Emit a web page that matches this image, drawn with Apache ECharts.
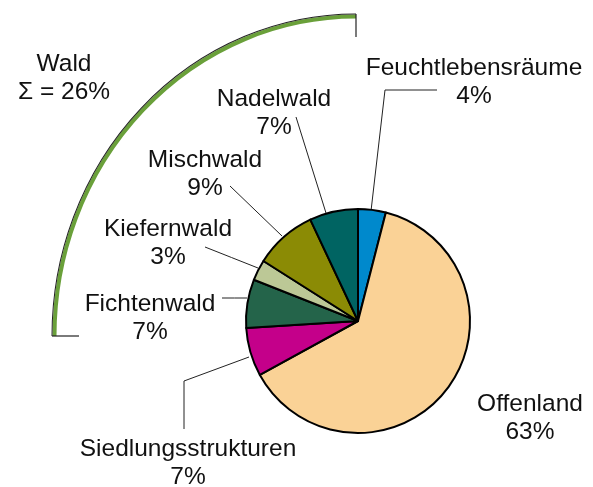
<!DOCTYPE html>
<html>
<head>
<meta charset="utf-8">
<script src="https://cdn.jsdelivr.net/npm/echarts@6/dist/echarts.min.js"></script>
<style>html,body{margin:0;padding:0;background:#fff;}#c{width:593px;height:487px;}</style>
</head>
<body>
<div id="c"></div>
<script>
// Data
const categories = ['Feuchtlebensräume', 'Offenland', 'Siedlungsstrukturen', 'Fichtenwald', 'Kiefernwald', 'Mischwald', 'Nadelwald'];
const values = [4, 63, 7, 7, 3, 9, 7];
const colors = ['#0089CC', '#FAD296', '#C4008A', '#24644A', '#BCC896', '#8B8B05', '#006462'];
const groupLabel = 'Wald';
const groupValue = 26;

// Layout for labels (center x, center y, leader line points from slice to label)
const labelPos = {
  'Feuchtlebensräume': { x: 474, y: 82, line: [[371, 211], [385, 90], [437, 90]] },
  'Offenland': { x: 530, y: 418, line: null },
  'Siedlungsstrukturen': { x: 188, y: 463, line: [[249, 357], [184, 381], [184, 429]] },
  'Fichtenwald': { x: 150, y: 318, line: [[247, 298], [234.5, 298], [222, 298]] },
  'Kiefernwald': { x: 168, y: 243, line: [[258, 268], [231.5, 257.5], [205, 247]] },
  'Mischwald': { x: 205, y: 174, line: [[282, 236], [256, 211], [230, 186]] },
  'Nadelwald': { x: 274, y: 113, line: [[326, 213], [311, 165], [296, 117]] }
};

const font = 'Liberation Sans, Arial, sans-serif';
const chart = echarts.init(document.getElementById('c'), null, { renderer: 'canvas' });

const data = categories.map((n, i) => ({
  name: n,
  value: values[i],
  itemStyle: { color: colors[i] },
  labelLine: { show: !!labelPos[n].line }
}));

const ecx = 356, ecy = 336, erx = 304, ery = 322;

chart.setOption({
  animation: false,
  backgroundColor: '#fff',
  series: [{
    type: 'pie',
    center: [358, 321],
    radius: 112,
    startAngle: 90,
    clockwise: true,
    data: data,
    itemStyle: { borderColor: '#000', borderWidth: 2 },
    label: {
      show: true,
      formatter: '{b}\n{d}%',
      fontFamily: font,
      fontSize: 24.5,
      lineHeight: 28,
      color: '#111',
      align: 'center',
      overflow: 'none',
      width: 300
    },
    labelLine: { show: true, lineStyle: { color: '#222', width: 1 } },
    labelLayout: function (p) {
      const lp = labelPos[categories[p.dataIndex]];
      const r = { x: lp.x, y: lp.y, align: 'center', verticalAlign: 'middle' };
      if (lp.line) r.labelLinePoints = lp.line;
      return r;
    },
    emphasis: { disabled: true }
  }],
  graphic: [
    { type: 'arc', x: ecx, y: ecy, scaleX: 1, scaleY: (ery - 2.5) / (erx - 2.5),
      shape: { cx: 0, cy: 0, r: erx - 2.5, startAngle: Math.PI, endAngle: Math.PI * 1.5, clockwise: true },
      style: { fill: null, stroke: '#6AA03A', lineWidth: 4, strokeNoScale: true } },
    { type: 'arc', x: ecx, y: ecy, scaleX: 1, scaleY: ery / erx,
      shape: { cx: 0, cy: 0, r: erx, startAngle: Math.PI, endAngle: Math.PI * 1.5, clockwise: true },
      style: { fill: null, stroke: '#222', lineWidth: 1, strokeNoScale: true } },
    { type: 'line', shape: { x1: 356, y1: 14, x2: 356, y2: 37 }, style: { stroke: '#222', lineWidth: 1.2 } },
    { type: 'line', shape: { x1: 52, y1: 336, x2: 79, y2: 336 }, style: { stroke: '#222', lineWidth: 1.2 } },
    { type: 'text', x: 64, y: 78,
      style: { text: groupLabel + '\nΣ = ' + groupValue + '%', font: '24.5px ' + font, lineHeight: 28,
        fill: '#111', align: 'center', verticalAlign: 'middle' } }
  ]
});
</script>
</body>
</html>
